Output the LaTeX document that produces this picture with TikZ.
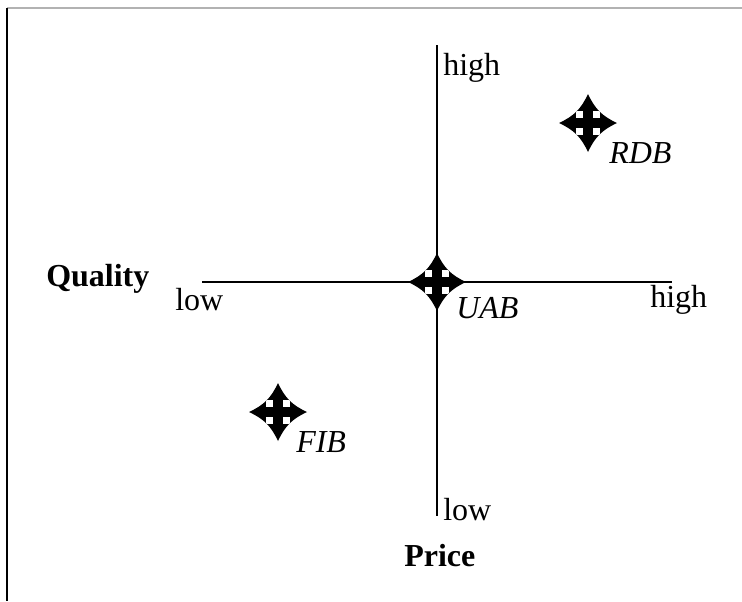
\documentclass[tikz,border=0pt]{standalone}
\usepackage{fontspec}
\setmainfont{Liberation Serif}
\tikzset{
  px/.style={x=0.75pt,y=-0.75pt},
  axis/.style={line width=1.6pt,black},
  lbl/.style={inner sep=0pt,anchor=base west,font=\fontsize{24}{28}\selectfont},
  blbl/.style={lbl,font=\fontsize{24}{28}\selectfont\bfseries},
  ilbl/.style={lbl,font=\fontsize{24}{28}\selectfont\itshape},
  pics/fourstar/.style={code={
    \def\starpath{(0,-29) .. controls (7,-14) and (14,-7) .. (29,0)
      .. controls (14,7) and (7,14) .. (0,29)
      .. controls (-7,14) and (-14,7) .. (-29,0)
      .. controls (-14,-7) and (-7,-14) .. (0,-29) -- cycle}
    \fill[black] \starpath;
    \begin{scope}
      \clip \starpath;
      \fill[white] (-12,-12) rectangle (12,12);
    \end{scope}
    \fill[black] (-5,-16) rectangle (5,16);
    \fill[black] (-16,-5) rectangle (16,5);
  }}
}
\begin{document}
\begin{tikzpicture}[px]
\useasboundingbox (0,0) rectangle (742,601);
\fill[white] (0,0) rectangle (742,601);
% frame
\draw[line width=1.4pt,black!30] (7,8) -- (742,8);
\draw[line width=1.6pt,black] (7,8) -- (7,601);
% axes
\coordinate (ctr) at (437,282);
\coordinate (xl) at (202,282);
\coordinate (xr) at (672,282);
\coordinate (yt) at (437,45);
\coordinate (yb) at (437,516);
\draw[axis] (xl) -- (xr);
\draw[axis] (yt) -- (yb);
% labels
\node[lbl] (hightop) at (443,75) {high};
\node[lbl] (lowleft) at (175,310) {low};
\node[lbl] (highright) at (650,307) {high};
\node[lbl] (lowbottom) at (443,520) {low};
\node[blbl] (quality) at (46,286) {Quality};
\node[blbl] (price) at (404,566) {Price};
% stars
\coordinate (rdb) at (588,123);
\coordinate (uab) at (437,282);
\coordinate (fib) at (278,412);
\pic at (rdb) {fourstar};
\pic at (uab) {fourstar};
\pic at (fib) {fourstar};
\node[ilbl] (rdbl) at (609,163) {RDB};
\node[ilbl] (uabl) at (456,318) {UAB};
\node[ilbl] (fibl) at (296,452) {FIB};
\end{tikzpicture}
\end{document}
